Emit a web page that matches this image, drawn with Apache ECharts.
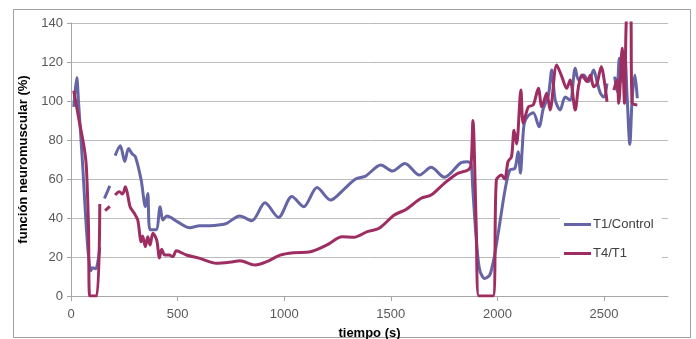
<!DOCTYPE html>
<html>
<head>
<meta charset="utf-8">
<script src="https://cdn.jsdelivr.net/npm/echarts@6/dist/echarts.min.js"></script>
<style>
  html, body { margin: 0; padding: 0; background: #fff; }
  #chart { width: 696px; height: 339px; }
</style>
</head>
<body>
<div id="chart"></div>
<script>
// tick labels
const xTicks = [0, 500, 1000, 1500, 2000, 2500];

// T1/Control: time (s) and value (%), null = gap in the line
const t1Times = [13, 27, 35, 53, 77, 93, 100, 116, 135, null,
  157, 182, null,
  207, 231, 252, 270, 286, 302, 329, 349, 360, 371, 399, 418, 431, 450, 500, 557, 604, 651, 700, 730, 792, 848,
  910, 973, 1036, 1091, 1154, 1217, 1280, 1335, 1382, 1453, 1508, 1566, 1634, 1689, 1751, 1830, 1862, 1877,
  1885, 1901, 1917, 1940, 1964, 1979, 1987, 2011, 2035, 2058, 2082, 2097, 2108, 2116, 2126, 2145, 2168, 2195,
  2215, 2239, 2255, 2271, 2294, 2318, 2341, 2365, 2380, 2404, 2428, 2451, 2467, 2483, 2499, 2514, null,
  2550, 2561, 2572, 2585, 2597, 2608, 2621, 2632, 2645, 2656];
const t1Values = [97, 112, 100, 70, 27, 13, 14.5, 14, 25, null,
  50, 56.5, null,
  72, 77, 69, 75.7, 73, 71.4, 59.5, 45.8, 52.6, 34, 34, 45.8, 39, 41, 38, 35, 36, 36, 36.5, 37.3, 41, 38.6,
  47.8, 40.3, 51, 45.8, 55.7, 49.2, 54.7, 60, 61.5, 67.2, 64.1, 68, 62, 66, 60.9, 68.4, 68.9, 67.2,
  54, 28.7, 13.3, 9, 10.8, 16.8, 21, 37.3, 54, 64.6, 65.5, 74, 63, 75, 88.6, 92.5, 94, 86.8,
  96, 103, 115.9, 100.5, 95.4, 102, 100.5, 116.8, 110.8, 113.3, 110, 115.9, 110, 104, 102, 109, null,
  112.5, 104.8, 121.9, 110, 125.3, 103, 77.8, 101.4, 113.3, 101.4];

// T4/T1
const t4Times = [13, 38, 61, 72, 82, 88, 120, 135, null,
  160, 182, null,
  207, 226, 242, 255, 266, 277, 297, 313, 329, 336, 349, 360, 371, 384, 402, 415, 425, 440, 460, 478, 494, 541,
  604, 682, 761, 792, 863, 918, 981, 1044, 1123, 1201, 1272, 1327, 1390, 1445, 1516, 1571, 1642, 1689, 1751,
  1814, 1862, 1876, 1885, 1901, 1913, 1979, 1995, 2019, 2034, 2050, 2066, 2078, 2090, 2110, 2121, 2145, 2168,
  2192, 2208, 2231, 2247, 2278, 2302, 2325, 2341, 2365, 2380, 2396, 2420, 2436, 2451, 2467, 2487, 2503, 2514, null,
  2546, 2561, 2569, 2585, 2596, 2608, 2624, 2632, 2656];
const t4Values = [105.3, 90, 76.6, 66.3, 35.5, 0, 0, 47.2, null,
  43.8, 46, null,
  51.8, 53.5, 52.3, 56, 51.8, 45.8, 42.4, 39, 27.8, 30.8, 25.3, 30.4, 26.2, 32.2, 28.7, 19.5, 24, 21, 21, 20.2, 23.2, 21,
  19.3, 16.8, 17.6, 18.1, 15.9, 17.6, 21, 22.2, 22.7, 26.2, 30.4, 30.1, 33, 34.7, 41.5, 44.4, 50.1, 51.8, 57.8,
  62.9, 64.6, 67, 90, 34, 0, 0, 59.5, 62, 60, 69, 71.4, 85, 78, 105.6, 88.6, 97, 98,
  106.5, 97, 104, 95.4, 118.5, 112.5, 106.5, 110.8, 95.4, 107.3, 113.3, 110, 113.3, 107.3, 109, 117.6, 109, 99.6, null,
  105.6, 110.8, 98.8, 127, 98.8, 145, 145, 99, 98];

const toPairs = (ts, vs) => ts.map((t, i) => (t === null ? null : [t, vs[i]]));

const chart = echarts.init(document.getElementById('chart'));
const font = 'Liberation Sans, Arial, sans-serif';

chart.setOption({
  animation: false,
  backgroundColor: '#fff',
  graphic: [{
    type: 'rect',
    shape: { x: 13.5, y: 9.5, width: 677, height: 328 },
    style: { fill: 'none', stroke: '#a0a0a0', lineWidth: 1 },
    silent: true
  }],
  grid: { left: 71, right: 28, top: 23, bottom: 43, outerBoundsMode: 'none' },
  legend: {
    orient: 'vertical',
    left: 560,
    top: 214,
    padding: [4, 8, 4, 4],
    backgroundColor: '#fff',
    icon: 'rect',
    itemWidth: 27,
    itemHeight: 3,
    itemGap: 16,
    textStyle: { fontFamily: font, fontSize: 13, color: '#404040', padding: [0, 0, 0, -3] },
    data: ['T1/Control', 'T4/T1']
  },
  xAxis: {
    type: 'value',
    min: 0,
    max: 2800,
    interval: 500,
    name: 'tiempo (s)',
    nameLocation: 'middle',
    nameGap: 31,
    nameTextStyle: { fontFamily: font, fontSize: 13, fontWeight: 'bold', color: '#000' },
    axisLine: { show: true, onZero: false, lineStyle: { color: '#a6a6a6' } },
    axisTick: { show: true, length: 5, customValues: xTicks, lineStyle: { color: '#a6a6a6' } },
    axisLabel: {
      customValues: xTicks,
      formatter: v => String(v),
      fontFamily: font, fontSize: 13, color: '#595959', margin: 12
    },
    splitLine: { show: false }
  },
  yAxis: {
    type: 'value',
    min: 0,
    max: 140,
    interval: 20,
    name: 'función neuromuscular (%)',
    nameLocation: 'middle',
    nameGap: 40,
    nameTextStyle: { fontFamily: font, fontSize: 13, fontWeight: 'bold', color: '#000' },
    axisLine: { show: true, lineStyle: { color: '#a6a6a6' } },
    axisTick: { show: true, length: 4, lineStyle: { color: '#a6a6a6' } },
    axisLabel: { fontFamily: font, fontSize: 13, color: '#595959', margin: 8 },
    splitLine: { show: true, lineStyle: { color: '#bcbcbc', width: 1 } }
  },
  series: [
    {
      name: 'T1/Control',
      type: 'line',
      data: toPairs(t1Times, t1Values),
      symbol: 'none',
      smooth: 0.3,
      connectNulls: false,
      itemStyle: { color: '#6565a6' },
      lineStyle: { color: '#6565a6', width: 3 }
    },
    {
      name: 'T4/T1',
      type: 'line',
      data: toPairs(t4Times, t4Values),
      symbol: 'none',
      smooth: 0.3,
      connectNulls: false,
      itemStyle: { color: '#9e2d61' },
      lineStyle: { color: '#9e2d61', width: 3 }
    }
  ]
});
</script>
</body>
</html>
